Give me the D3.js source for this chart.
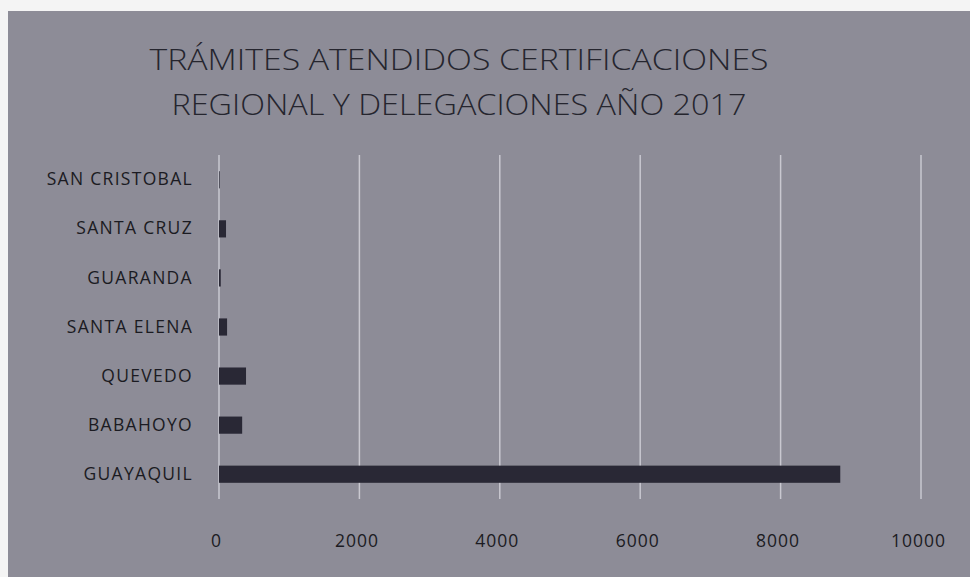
<!DOCTYPE html>
<html>
<head>
<meta charset="utf-8">
<script src="https://cdn.jsdelivr.net/npm/d3@7"></script>
<style>
  body { margin: 0; background: #f4f4f4; }
  svg { display: block; }
</style>
</head>
<body>
<script>
const categories = ["SAN CRISTOBAL", "SANTA CRUZ", "GUARANDA", "SANTA ELENA", "QUEVEDO", "BABAHOYO", "GUAYAQUIL"];
const values = [10, 100, 25, 115, 385, 330, 8850];
const ticks = [0, 2000, 4000, 6000, 8000, 10000];
const titleLines = ["TRÁMITES ATENDIDOS CERTIFICACIONES", "REGIONAL Y DELEGACIONES AÑO 2017"];

const width = 970;
const height = 577;
const marginTop = 155;
const marginRight = 49;
const marginBottom = 78;
const marginLeft = 219;

const x = d3.scaleLinear()
    .domain([0, 10000])
    .range([marginLeft, width - marginRight]);

const y = d3.scaleBand()
    .domain(categories)
    .range([marginTop, height - marginBottom])
    .paddingInner(0.65)
    .paddingOuter(0.33);

const svg = d3.select("body")
  .append("svg")
    .attr("width", width)
    .attr("height", height)
    .attr("viewBox", [0, 0, width, height]);

// chart background (scanned gray)
svg.append("rect")
    .attr("x", 8)
    .attr("y", 11)
    .attr("width", width - 8)
    .attr("height", height - 11)
    .attr("fill", "#8d8c97");

// gridlines
svg.append("g")
  .selectAll("line")
  .data(ticks)
  .join("line")
    .attr("x1", d => x(d))
    .attr("x2", d => x(d))
    .attr("y1", marginTop)
    .attr("y2", height - marginBottom)
    .attr("stroke", "#c9c8d0")
    .attr("stroke-width", 1.5);

// bars
svg.append("g")
    .attr("fill", "#292835")
  .selectAll("rect")
  .data(categories)
  .join("rect")
    .attr("x", x(0))
    .attr("y", d => y(d))
    .attr("width", (d, i) => x(values[i]) - x(0))
    .attr("height", y.bandwidth());

// category axis
svg.append("g")
    .attr("transform", `translate(${marginLeft - 26},0)`)
    .call(d3.axisLeft(y).tickSize(0).tickPadding(0))
    .call(g => g.select(".domain").remove())
    .call(g => g.selectAll("text")
        .attr("fill", "#1b1b22")
        .attr("font-family", "Open Sans, sans-serif")
        .attr("font-size", 17.5)
        .attr("letter-spacing", 1.3));

// value axis
svg.append("g")
    .attr("transform", `translate(0,${height - marginBottom + 36})`)
    .call(d3.axisBottom(x).tickValues(ticks).tickFormat(d3.format("d")).tickSize(0).tickPadding(0))
    .call(g => g.select(".domain").remove())
    .call(g => g.selectAll("text")
        .attr("x", -3)
        .attr("fill", "#1b1b22")
        .attr("font-family", "Open Sans, sans-serif")
        .attr("font-size", 17.5)
        .attr("letter-spacing", 1));

// title
svg.append("g")
  .selectAll("text")
  .data(titleLines)
  .join("text")
    .attr("x", 459)
    .attr("y", (d, i) => 70 + i * 45)
    .attr("text-anchor", "middle")
    .attr("fill", "#25252e")
    .attr("font-family", "Open Sans, sans-serif")
    .attr("font-weight", 300)
    .attr("font-size", 30)
    .attr("textLength", (d, i) => i === 0 ? 619 : 575)
    .attr("lengthAdjust", "spacingAndGlyphs")
    .text(d => d);
</script>
</body>
</html>
